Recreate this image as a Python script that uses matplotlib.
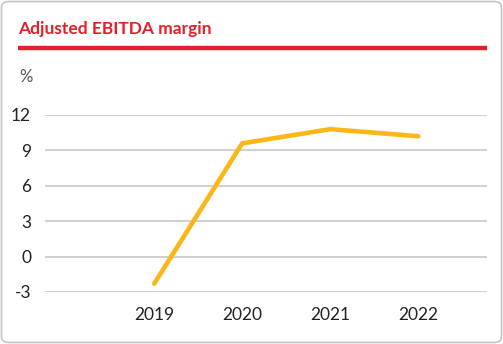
import matplotlib
matplotlib.use("Agg")
import matplotlib.pyplot as plt
from matplotlib.patches import FancyBboxPatch
from matplotlib.lines import Line2D

years = ["2019", "2020", "2021", "2022"]
margin = [-2.3, 9.6, 10.8, 10.2]
yticks = [-3, 0, 3, 6, 9, 12]

RED = "#e3202b"
GOLD = "#fbb617"
TEXT = "#222222"

plt.rcParams["font.family"] = ["Lato", "DejaVu Sans"]

W, H = 503, 344
fig = plt.figure(figsize=(W / 100, H / 100), dpi=100)

# rounded card outline, kept behind the axes
card = FancyBboxPatch((1.5 / W, 1.5 / H), (W - 3) / W, (H - 3) / H,
                      boxstyle="round,pad=0,rounding_size=0.016",
                      transform=fig.transFigure, facecolor="white",
                      edgecolor="#c4c4c4", linewidth=1.2, zorder=-10)
fig.patches.append(card)

fig.text(18 / W, 1 - 29 / H, "Adjusted EBITDA margin", color=RED,
         fontsize=12.5, fontweight="bold", va="center", ha="left")
fig.add_artist(Line2D([18 / W, 487 / W], [1 - 48 / H, 1 - 48 / H],
                      transform=fig.transFigure, color=RED, linewidth=3.2,
                      solid_capstyle="butt"))
fig.text(19 / W, 1 - 77 / H, "%", color="#555555", fontsize=12,
         va="center", ha="left")

ax = fig.add_axes([45 / W, 52 / H, 442 / W, 177 / H])
ax.patch.set_alpha(0)
x = range(len(years))
ax.plot(x, margin, color=GOLD, linewidth=3.3, solid_capstyle="round",
        solid_joinstyle="miter", zorder=3)

ax.set_xlim(-1.24, 3.78)
ax.set_ylim(-3, 12)
ax.set_yticks(yticks)
ax.set_yticklabels([str(v) for v in yticks])
ax.set_xticks(list(x))
ax.set_xticklabels(years)
ax.yaxis.grid(True, color="#c8c8c8", linewidth=1.2)
ax.set_axisbelow(True)
for s in ax.spines.values():
    s.set_visible(False)
ax.tick_params(axis="both", length=0, labelsize=12.5, colors=TEXT)
ax.tick_params(axis="y", pad=10)
ax.tick_params(axis="x", pad=11)

fig.savefig("out.png", dpi=100)
